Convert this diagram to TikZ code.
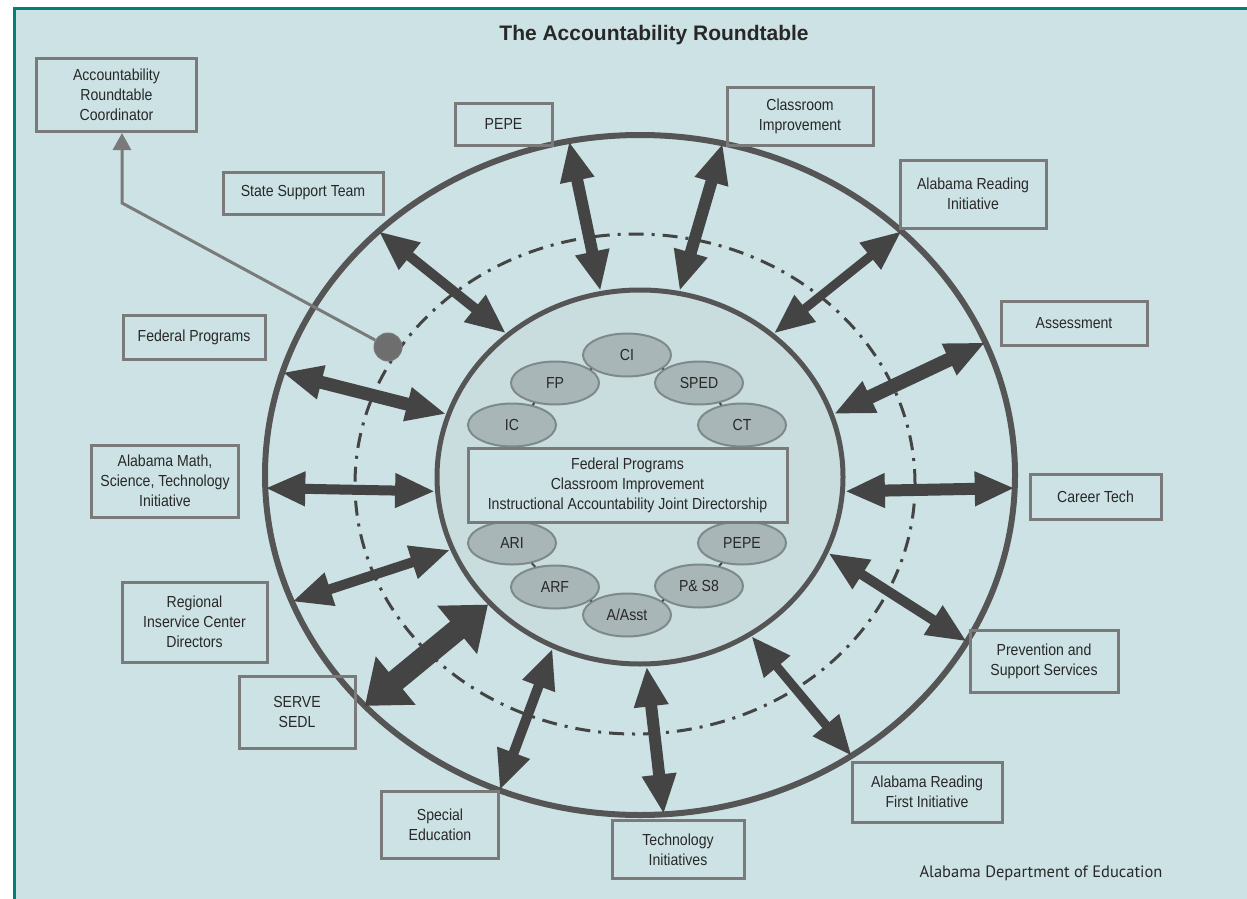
\documentclass[tikz,border=0pt]{standalone}
\usepackage{fontspec}
\setmainfont{Liberation Sans}[FakeStretch=0.88]
\newfontfamily\titlefont{Liberation Sans}
\newfontfamily\creditfont{PT Sans}
\usetikzlibrary{arrows.meta,shapes.geometric,positioning}

\definecolor{panelbg}{RGB}{204,226,228}
\definecolor{tealline}{RGB}{0,128,120}
\definecolor{ringgray}{RGB}{85,85,85}
\definecolor{arrowgray}{RGB}{68,68,68}
\definecolor{boxgray}{RGB}{122,122,122}
\definecolor{pillfill}{RGB}{168,182,183}
\definecolor{pilledge}{RGB}{126,138,138}
\definecolor{hubfill}{RGB}{201,221,223}
\definecolor{inkgray}{RGB}{40,40,40}

\tikzset{
  unit/.style={draw=boxgray, line width=3pt, align=center, inner sep=0pt,
    text=inkgray, font=\fontsize{16}{20}\selectfont},
  pill/.style={ellipse, draw=pilledge, fill=pillfill, line width=2pt, inner sep=0pt,
    minimum width=88pt, minimum height=43pt, text=inkgray, font=\fontsize{16}{20}\selectfont},
  tie/.style={draw=arrowgray, line width=2pt},
  link/.style={draw=arrowgray, line width=#1,
    {Triangle[length=40pt,width=32pt]}-{Triangle[length=40pt,width=32pt]}},
  link/.default=11pt,
  hugelink/.style={draw=arrowgray, line width=22pt,
    {Triangle[length=40pt,width=60pt]}-{Triangle[length=40pt,width=60pt]}},
  feed/.style={draw=boxgray, line width=3pt, -{Triangle[length=17pt,width=18pt]}}
}

\begin{document}
\begin{tikzpicture}[x=1pt,y=-1pt]
  \useasboundingbox (0,0) rectangle (1247,899);
  \fill[white] (0,0) rectangle (1247,899);
  \fill[panelbg] (13,7) rectangle (1247,899);
  \draw[tealline,line width=3pt] (14.5,899) -- (14.5,8.5) -- (1247,8.5);

  \node[font=\titlefont\bfseries\fontsize{21}{25}\selectfont,text=inkgray] (title) at (654,35) {The Accountability Roundtable};

  % rings
  \node[ellipse,draw=ringgray,line width=6pt,minimum width=750pt,minimum height=680pt,inner sep=0pt,outer sep=0pt] (ring) at (640,475) {};
  \node[ellipse,draw=arrowgray,line width=3pt,dash pattern=on 15pt off 8pt on 3pt off 8pt,
    minimum width=560pt,minimum height=500pt,inner sep=0pt] (orbit) at (635,484) {};
  \node[ellipse,draw=ringgray,fill=hubfill,line width=5pt,minimum width=406pt,minimum height=374pt,inner sep=0pt] (hub) at (640,477) {};

  % outer units
  \node[unit,minimum width=160pt,minimum height=73pt] (coord) at (116.5,95) {Accountability\\Roundtable\\Coordinator};
  \node[unit,minimum width=160pt,minimum height=42pt] (sst) at (303,193) {State Support Team};
  \node[unit,minimum width=97pt,minimum height=42pt] (pepe) at (503.5,124) {PEPE};
  \node[unit,minimum width=146pt,minimum height=58pt] (clim) at (800,116.5) {Classroom\\Improvement};
  \node[unit,minimum width=146pt,minimum height=68pt] (ari) at (973,194) {Alabama Reading\\Initiative};
  \node[unit,minimum width=146pt,minimum height=44pt] (assess) at (1074,323) {Assessment};
  \node[unit,minimum width=131pt,minimum height=45pt] (ctech) at (1095.5,496.5) {Career Tech};
  \node[unit,minimum width=148pt,minimum height=62pt] (prev) at (1044,661) {Prevention and\\Support Services};
  \node[unit,minimum width=150pt,minimum height=60pt] (arfi) at (927,792) {Alabama Reading\\First Initiative};
  \node[unit,minimum width=132pt,minimum height=58pt] (tech) at (678,849.5) {Technology\\Initiatives};
  \node[unit,minimum width=117pt,minimum height=67pt] (sped) at (440,825) {Special\\Education};
  \node[unit,minimum width=116pt,minimum height=72pt] (serve) at (297,712) {SERVE\\SEDL};
  \node[unit,minimum width=145pt,minimum height=80pt] (ric) at (194.5,622) {Regional\\Inservice Center\\Directors};
  \node[unit,minimum width=147pt,minimum height=72pt] (amsti) at (165,481) {Alabama Math,\\Science, Technology\\Initiative};
  \node[unit,minimum width=142pt,minimum height=44pt] (fedp) at (194,337) {Federal Programs};

  % two-way links ring <-> hub
  \draw[link=10pt] (ring.137) -- (hub.133);
  \draw[link=12pt] (ring.102) -- (hub.102);
  \draw[link=12pt] (ring.76) -- (hub.78);
  \draw[link=9pt] (ring.43) -- (hub.47);
  \draw[link=14pt] (ring.21) -- (hub.18);
  \draw[link=12pt] (ring.-2) -- (hub.-4);
  \draw[link=10pt] (ring.-27) -- (hub.-22);
  \draw[link=9pt] (ring.-53) -- (hub.-55);
  \draw[link=12pt] (ring.-86) -- (hub.-88);
  \draw[link=10pt] (ring.-114) -- (hub.-117);
  \draw[hugelink] (ring.-140) -- (hub.-140);
  \draw[link=10pt] (ring.-160) -- (hub.-159);
  \draw[link=10pt] (ring.-178) -- (hub.-176);
  \draw[link=13pt] (ring.164) -- (hub.162);

  % offices inside the hub
  \node[pill] (CI) at (627,355) {CI};
  \node[pill] (FP) at (555,383) {FP};
  \node[pill] (SPED) at (699,383) {SPED};
  \node[pill] (IC) at (512,425) {IC};
  \node[pill] (CT) at (742,425) {CT};
  \node[pill] (ARI) at (512,543) {ARI};
  \node[pill] (PEPE) at (742,543) {PEPE};
  \node[pill] (ARF) at (555,587) {ARF};
  \node[pill] (PS) at (699,586) {P\& S8};
  \node[pill] (Asst) at (627,615) {A/Asst};
  \foreach \a/\b in {CI/SPED,SPED/CT,CI/FP,FP/IC,ARI/ARF,ARF/Asst,Asst/PS,PS/PEPE}
    \draw[tie] (\a) -- (\b);

  \node[unit,fill=panelbg,minimum width=319pt,minimum height=74pt] (joint) at (627.5,485)
    {Federal Programs\\Classroom Improvement\\Instructional Accountability Joint Directorship};

  % coordinator feed
  \node[circle,fill=boxgray!90!black,draw=boxgray,line width=1pt,minimum size=28pt,inner sep=0pt] (hubdot) at (388,347) {};
  \coordinate (bend) at (122,203);
  \draw[feed] (hubdot) -- (bend) -- (bend |- coord.south);

  \node[anchor=base west,font=\creditfont\fontsize{16.5}{20}\selectfont,text=inkgray] (credit) at (916,877) {Alabama Department of Education};
\end{tikzpicture}
\end{document}
